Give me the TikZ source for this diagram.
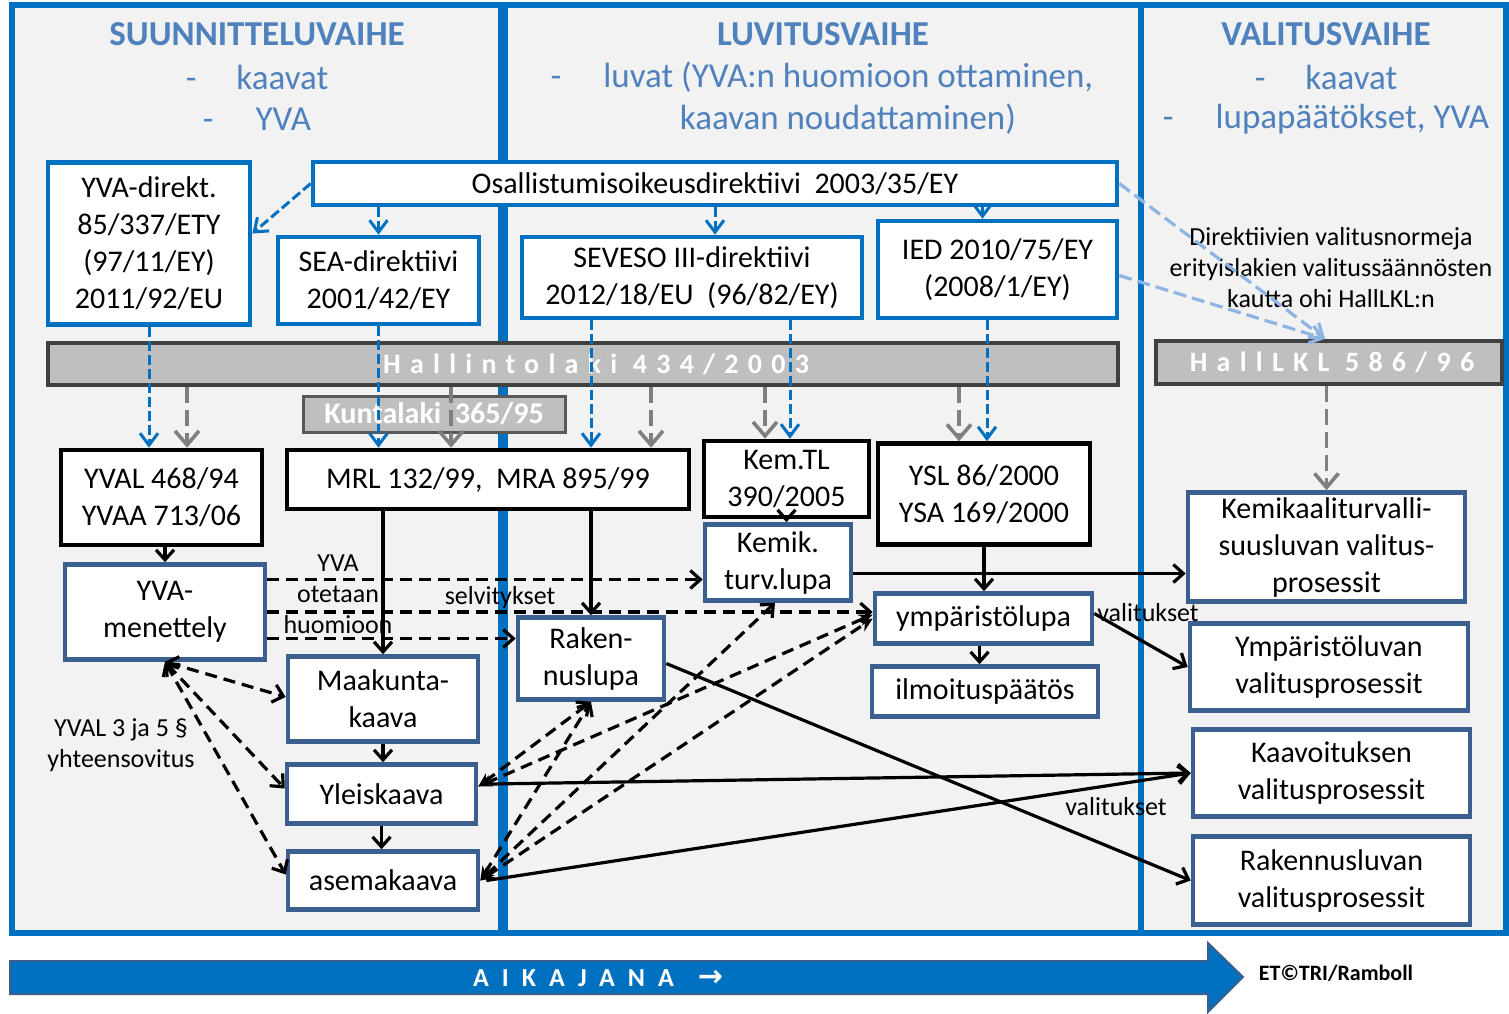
\documentclass[tikz,border=0pt]{standalone}
\usepackage{fontspec}
\setmainfont{Carlito}
\newfontfamily\arrowfamily{DejaVu Sans}
\usetikzlibrary{arrows.meta,positioning}

\definecolor{phaseblue}{HTML}{0070C0}
\definecolor{panelgray}{HTML}{F2F2F2}
\definecolor{headblue}{HTML}{4F81BD}
\definecolor{procblue}{HTML}{3B5F8E}
\definecolor{bargray}{HTML}{BFBFBF}
\definecolor{bardark}{HTML}{404040}
\definecolor{kuntadark}{HTML}{595959}
\definecolor{dashgray}{HTML}{7F7F7F}
\definecolor{lightblue}{HTML}{8DB4E2}

\newcommand{\boxfont}{\fontsize{15}{18.5}\selectfont}
\newcommand{\headfont}{\fontsize{17.5}{21}\selectfont}
\newcommand{\notefont}{\fontsize{13}{15.5}\selectfont}
\newcommand{\barfont}{\fontsize{14}{16}\selectfont\bfseries\addfontfeatures{LetterSpace=33}}
\newcommand{\kuntafont}{\fontsize{15}{17}\selectfont\bfseries}
\newcommand{\timefont}{\fontsize{13}{15}\selectfont\bfseries\addfontfeatures{LetterSpace=50}}

\begin{document}
\begin{tikzpicture}[x=0.5pt, y=-0.5pt,
    panel/.style={draw=phaseblue, line width=3pt, fill=panelgray},
    phase/.style={text=headblue, font=\headfont},
    basebox/.style={rectangle, fill=white, line width=2.3pt, inner sep=0pt, align=center, font=\boxfont},
    dirbox/.style={basebox, draw=phaseblue},
    lawbox/.style={basebox, draw=black},
    procbox/.style={basebox, draw=procblue},
    lawbar/.style={rectangle, draw=bardark, fill=bargray, line width=2.2pt, inner sep=0pt, text=white, font=\barfont},
    note/.style={align=center, font=\notefont},
    bluedash/.style={draw=phaseblue, line width=1.5pt, dash pattern=on 5pt off 2pt, -{Straight Barb[length=6pt,width=9pt]}},
    lightdash/.style={draw=lightblue, line width=1.6pt, dash pattern=on 6.5pt off 3pt, -{Straight Barb[length=6pt,width=9pt]}},
    graydash/.style={draw=dashgray, line width=1.8pt, dash pattern=on 8pt off 3.5pt, -{Straight Barb[length=7pt,width=12pt]}},
    flow/.style={draw=black, line width=1.6pt, -{Straight Barb[length=5pt,width=9pt]}},
    flowdash/.style={flow, dash pattern=on 6pt off 3.5pt},
    biopen/.style={flowdash, {Straight Barb[length=5pt,width=9pt]}-{Straight Barb[length=5pt,width=9pt]}},
    planlink/.style={flowdash, {Stealth[length=7pt,width=6pt]}-{Straight Barb[length=5pt,width=9pt]}},
    planfill/.style={flowdash, {Stealth[length=7pt,width=6pt]}-{Stealth[length=7pt,width=6pt]}}]
    \useasboundingbox (0,0) rectangle (1509,1013);

    % Panels
    \draw[panel] (11.5,4.5) rectangle (501,933);
    \draw[panel] (505,4.5) rectangle (1141,933);
    \draw[panel] (1141,4.5) rectangle (1506,933);

    % Headings
    \node[phase, font=\headfont\bfseries] (planhead) at (257,34) {SUUNNITTELUVAIHE};
    \node[phase] (planitem1) at (257,77) {-\hspace{20pt}kaavat};
    \node[phase] (planitem2) at (257,119) {-\hspace{21pt}YVA};
    \node[phase, font=\headfont\bfseries] (permithead) at (823,34) {LUVITUSVAIHE};
    \node[phase] (permititem1) at (822,77) {-\hspace{21pt}luvat (YVA:n huomioon ottaminen,};
    \node[phase] (permititem2) at (848,119) {kaavan noudattaminen)};
    \node[phase, font=\headfont\bfseries] (appealhead) at (1326,34) {VALITUSVAIHE};
    \node[phase] (appealitem1) at (1326,77) {-\hspace{20pt}kaavat};
    \node[phase] (appealitem2) at (1326,119) {-\hspace{21pt}lupapäätökset, YVA};

    % Directives
    \node[dirbox, minimum width=101pt, minimum height=81pt] (yvadir) at (149,243.5) {YVA-direkt.\\85/337/ETY\\(97/11/EY)\\2011/92/EU};
    \node[dirbox, minimum width=402pt, minimum height=21.5pt] (osal) at (715,183.5) {Osallistumisoikeusdirektiivi\ \ 2003/35/EY};
    \node[dirbox, minimum width=100.5pt, minimum height=43.5pt] (sea) at (378.5,280.5) {SEA-direktiivi\\2001/42/EY};
    \node[dirbox, minimum width=170pt, minimum height=40.5pt] (seveso) at (692,277.5) {SEVESO III-direktiivi\\2012/18/EU\ \ (96/82/EY)};
    \node[dirbox, minimum width=119.5pt, minimum height=48.5pt] (ied) at (997.5,269.5) {IED 2010/75/EY\\(2008/1/EY)};

    % Bars
    \node[lawbar, minimum width=535pt, minimum height=21pt] (hallinto) at (583,364) {\hspace*{13pt}Hallintolaki\ 434/2003};
    \node[lawbar, draw=kuntadark, line width=1.5pt, minimum width=131pt, minimum height=18pt, font=\kuntafont] (kunta) at (434,414) {Kuntalaki\ \ 365/95};
    \node[lawbar, minimum width=173pt, minimum height=21.5pt] (halllkl) at (1329,362.5) {\hspace*{3pt}HallLKL\ 586/96};

    % Laws
    \node[lawbox, minimum width=100.5pt, minimum height=47.5pt] (yval) at (161.5,497.5) {YVAL 468/94\\YVAA 713/06};
    \node[lawbox, minimum width=201pt, minimum height=29.5pt] (mrl) at (488,479.5) {MRL 132/99,\ \ MRA 895/99};
    \node[lawbox, minimum width=82.5pt, minimum height=38pt] (kemtl) at (786.5,479) {Kem.TL\\390/2005};
    \node[lawbox, minimum width=106pt, minimum height=50.5pt] (ysl) at (984,494) {YSL 86/2000\\YSA 169/2000};

    % Procedures
    \node[procbox, minimum width=100pt, minimum height=47.5pt] (yvamen) at (165,612) {YVA-\\menettely};
    \node[procbox, minimum width=73pt, minimum height=38pt] (kemik) at (778,562.5) {Kemik.\\turv.lupa};
    \node[procbox, minimum width=73pt, minimum height=41pt] (raken) at (591,658.5) {Raken-\\nuslupa};
    \node[procbox, minimum width=108.5pt, minimum height=25pt] (ymplupa) at (983.5,618.5) {ympäristölupa};
    \node[procbox, minimum width=113pt, minimum height=25pt] (ilmoitus) at (985,691.5) {ilmoituspäätös};
    \node[procbox, minimum width=95pt, minimum height=42.5pt] (maakunta) at (383,699) {Maakunta-\\kaava};
    \node[procbox, minimum width=94.5pt, minimum height=29.5pt] (yleis) at (381.5,794) {Yleiskaava};
    \node[procbox, minimum width=95pt, minimum height=29pt] (asema) at (383,880.5) {asemakaava};
    \node[procbox, minimum width=138.5pt, minimum height=54.5pt] (kemval) at (1326.5,547) {Kemikaaliturvalli-\\suusluvan valitus-\\prosessit};
    \node[procbox, minimum width=139pt, minimum height=43.5pt] (ympval) at (1329,667) {Ympäristöluvan\\valitusprosessit};
    \node[procbox, minimum width=138.5pt, minimum height=43.5pt] (kaavval) at (1331.5,773) {Kaavoituksen\\valitusprosessit};
    \node[procbox, minimum width=138.5pt, minimum height=44pt] (rakval) at (1331.5,880.5) {Rakennusluvan\\valitusprosessit};

    % Labels
    \node[note] (dirnote) at (1331,268) {Direktiivien valitusnormeja\\erityislakien valitussäännösten\\kautta ohi HallLKL:n};
    \node[note] (yvanote) at (338,594) {YVA\\otetaan\\huomioon};
    \node[note] (selvnote) at (500,598) {selvitykset};
    \node[note] (valnote1) at (1148,613) {valitukset};
    \node[note] (valnote2) at (1116,807) {valitukset};
    \node[note] (coordnote) at (121,745) {YVAL 3 ja 5 §\\yhteensovitus};

    % Directive arrows
    \draw[bluedash] (osal.west) -- ([yshift=5pt]yvadir.east);
    \draw[bluedash] (osal.south -| sea.north) -- (sea.north);
    \draw[bluedash] (osal.south) -- (osal.south |- seveso.north);
    \draw[bluedash] ([xshift=-7.5pt]ied.north |- osal.south) -- ([xshift=-7.5pt]ied.north);
    \draw[bluedash] (yvadir.south) -- (yvadir.south |- yval.north);
    \draw[bluedash] (sea.south) -- (sea.south |- mrl.north);
    \draw[bluedash] ([xshift=-50.5pt]seveso.south) -- ([xshift=-50.5pt]seveso.south |- mrl.north);
    \draw[bluedash] ([xshift=49pt]seveso.south) -- ([xshift=49pt]seveso.south |- kemtl.north);
    \draw[bluedash] ([xshift=1.5pt]ysl.north |- ied.south) -- ([xshift=1.5pt]ysl.north);
    \draw[lightdash] (osal.east) -- ([xshift=-2pt]halllkl.north);
    \draw[lightdash] ([yshift=-3pt]ied.east) -- ([xshift=-2pt]halllkl.north);

    % Administrative law arrows
    \draw[graydash] ([xshift=12.75pt]yval.north |- hallinto.south) -- ([xshift=12.75pt]yval.north);
    \draw[graydash] ([xshift=-18.5pt]mrl.north |- hallinto.south) -- ([xshift=-18.5pt]mrl.north);
    \draw[graydash] ([xshift=81.5pt]mrl.north |- hallinto.south) -- ([xshift=81.5pt]mrl.north);
    \draw[graydash] ([xshift=-10.75pt]kemtl.north |- hallinto.south) -- ([xshift=-10.75pt]kemtl.north);
    \draw[graydash] ([xshift=-12.5pt]ysl.north |- hallinto.south) -- ([xshift=-12.5pt]ysl.north);
    \draw[graydash] (halllkl.south -| kemval.north) -- (kemval.north);

    % Flow
    \draw[flow] (yvamen.north |- yval.south) -- (yvamen.north);
    \draw[flow] (maakunta.north |- mrl.south) -- (maakunta.north);
    \draw[flow] (raken.north |- mrl.south) -- (raken.north);
    \draw[flow] (kemtl.south) -- (kemtl.south |- kemik.north);
    \draw[flow] (ysl.south) -- (ysl.south |- ymplupa.north);
    \draw[flow] ([xshift=-2pt]ymplupa.south) -- ([xshift=-2pt]ymplupa.south |- ilmoitus.north);
    \draw[flow] (maakunta.south) -- (maakunta.south |- yleis.north);
    \draw[flow] (yleis.south) -- (yleis.south |- asema.north);
    \draw[flow] ([yshift=-5.5pt]kemik.east) -- ([yshift=-5.5pt]kemik.east -| kemval.west);
    \draw[flow] ([yshift=2.5pt]ymplupa.east) -- (ympval.west);
    \draw[flow] ([shift={(6pt,5pt)}]yleis.east) -- (kaavval.west);
    \draw[flow] ([xshift=3pt]asema.east) -- (kaavval.west);
    \draw[flow] ([yshift=-2.5pt]raken.east) -- (rakval.west);

    % YVA links
    \draw[flowdash] ([yshift=16.25pt]yvamen.east) -- ([yshift=16.25pt]yvamen.east -| kemik.west);
    \draw[flowdash] (yvamen.east) -- (yvamen.east -| ymplupa.west);
    \draw[flowdash] ([yshift=-13.25pt]yvamen.east) -- ([yshift=-13.25pt]yvamen.east -| raken.west);
    \draw[biopen] (yvamen.south) -- ([yshift=1pt]maakunta.west);
    \draw[biopen] (yvamen.south) -- ([yshift=2.75pt]yleis.west);
    \draw[biopen] (yvamen.south) -- ([yshift=3pt]asema.west);

    % Plan to permit links
    \draw[planlink] ([yshift=3.75pt]yleis.east) -- (raken.south);
    \draw[planlink] (asema.east) -- (raken.south);
    \draw[planlink] (asema.east) -- ([xshift=-1.5pt]kemik.south);
    \draw[planfill] ([yshift=3.75pt]yleis.east) -- ([yshift=2pt]ymplupa.west);
    \draw[planfill] (asema.east) -- (ymplupa.west);

    % Timeline
    \draw[draw=procblue, line width=1pt, fill=phaseblue] (10,961) -- (1208,961) -- (1208,943) -- (1243,977) -- (1208,1012) -- (1208,994) -- (10,994) -- cycle;
    \node[text=white, font=\timefont] (aikajana) at (598,978) {AIKAJANA\hspace{12pt}{\arrowfamily\bfseries\fontsize{15}{15}\selectfont →}};
    \node[font=\fontsize{11}{12}\selectfont\bfseries] (credit) at (1336,973) {ET©TRI/Ramboll};
\end{tikzpicture}
\end{document}
